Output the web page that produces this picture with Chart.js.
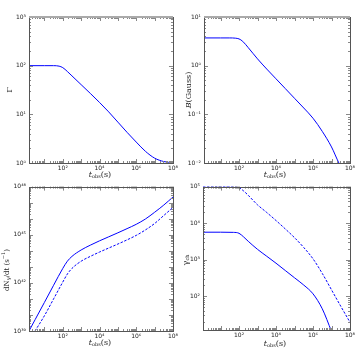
<!DOCTYPE html>
<html>
  <head>
    <script src="https://cdn.jsdelivr.net/npm/chart.js"></script>
    <style>
      body { margin: 0; background: #fff; }
      #wrap { position: relative; width: 360px; height: 360px; }
      .panel { position: absolute; width: 180px; height: 180px; }
    </style>
  </head>
  <body>
    <div id="wrap">
      <div class="panel" style="left:0;top:0"><canvas id="c1" width="180" height="180"></canvas></div>
      <div class="panel" style="left:180px;top:0"><canvas id="c2" width="180" height="180"></canvas></div>
      <div class="panel" style="left:0;top:180px"><canvas id="c3" width="180" height="180"></canvas></div>
      <div class="panel" style="left:180px;top:180px"><canvas id="c4" width="180" height="180"></canvas></div>
    </div>

    <script>
      // all values are log10 exponents
      const logTGamma = [0.16, 1, 1.5, 1.8, 2, 2.25, 2.5, 3, 3.5, 4, 4.5, 5, 5.5, 6, 6.5, 7, 7.5, 8]
      const logGamma = [2, 2, 2, 1.99, 1.96, 1.88, 1.79, 1.61, 1.43, 1.245, 1.05, 0.84, 0.63, 0.43, 0.24, 0.1, 0.03, 0.005]

      const logTB = [0.1, 1, 1.5, 1.8, 2, 2.2, 2.5, 3, 3.5, 4, 4.5, 5, 5.5, 6, 6.5, 7, 7.4, 7.7]
      const logB = [0.57, 0.57, 0.57, 0.565, 0.55, 0.5, 0.37, 0.14, -0.07, -0.27, -0.47, -0.67, -0.87, -1.08, -1.35, -1.67, -2.0, -2.2]

      const logTN = [0.16, 0.5, 1, 1.5, 2, 2.25, 2.5, 3, 3.5, 4, 4.5, 5, 5.5, 6, 6.5, 7, 7.5, 8]
      const logNSolid = [39, 39.72, 40.78, 41.85, 42.9, 43.35, 43.65, 44.05, 44.35, 44.62, 44.87, 45.12, 45.38, 45.65, 45.98, 46.4, 46.85, 47.35]
      const logTNDash = [0.49, 1, 1.5, 2, 2.25, 2.5, 3, 3.5, 4, 4.5, 5, 5.5, 6, 6.5, 7, 7.5, 8]
      const logNDash = [39, 39.95, 41, 42.05, 42.55, 42.9, 43.35, 43.65, 43.92, 44.17, 44.42, 44.68, 44.96, 45.3, 45.7, 46.2, 46.7]

      const logTGam = [0.05, 1, 1.7, 2, 2.25, 2.5, 3, 3.5, 4, 4.5, 5, 5.5, 6, 6.5, 7, 7.5, 8]
      const logGamDash = [5, 5, 4.995, 4.97, 4.88, 4.76, 4.5, 4.29, 4.07, 3.84, 3.6, 3.33, 3.02, 2.62, 2.17, 1.72, 1.28]
      const logGamSolid = [3.75, 3.75, 3.745, 3.72, 3.62, 3.5, 3.28, 3.09, 2.9, 2.7, 2.5, 2.3, 2.06, 1.65, 1.03, 0.4, -0.2]

      const xTicks = [1e2, 1e4, 1e6, 1e8]
      const yTicks1 = [1, 10, 100, 1000]
      const yTicks2 = [0.01, 0.1, 1, 10]
      const yTicks3 = [1e39, 1e42, 1e45, 1e48]
      const yTicks4 = [1e2, 1e3, 1e4, 1e5]

      const sup = { '-': '⁻', '0': '⁰', '1': '¹', '2': '²', '3': '³', '4': '⁴', '5': '⁵', '6': '⁶', '7': '⁷', '8': '⁸', '9': '⁹' }
      const powLabel = v => '10' + String(Math.round(Math.log10(v))).split('').map(c => sup[c]).join('')
      const pts = (xs, ys) => xs.map((x, i) => ({ x: 10 ** x, y: 10 ** ys[i] }))

      // draw text made of pieces with different sizes / baseline shifts, centred
      const drawParts = (ctx, parts, cx, cy, rotate) => {
        ctx.save()
        ctx.translate(cx, cy)
        if (rotate) ctx.rotate(-Math.PI / 2)
        ctx.fillStyle = '#222'
        ctx.textBaseline = 'middle'
        let w = 0
        parts.forEach(p => {
          ctx.font = (p.it ? 'italic ' : '') + p.size + 'px "DejaVu Serif"'
          p.w = ctx.measureText(p.t).width
          w += p.w
        })
        let x = -w / 2
        parts.forEach(p => {
          ctx.font = (p.it ? 'italic ' : '') + p.size + 'px "DejaVu Serif"'
          ctx.fillText(p.t, x, p.dy || 0)
          x += p.w
        })
        ctx.restore()
      }

      const xTitle = [{ t: 't', size: 8, it: true }, { t: 'obs', size: 5, dy: 2 }, { t: '(s)', size: 8 }]

      const framePlugin = {
        id: 'frame',
        afterDraw(chart, args, opts) {
          const { ctx, chartArea: a } = chart
          const xs = chart.scales.x
          const ys = chart.scales.y
          ctx.save()
          ctx.strokeStyle = '#888'
          ctx.lineWidth = 1
          // minor / major ticks on all four sides, pointing inward
          const marks = (scale, horiz) => {
            const lo = Math.floor(Math.log10(scale.min))
            const hi = Math.ceil(Math.log10(scale.max))
            for (let d = lo; d <= hi; d++) {
              for (let m = 1; m < 10; m++) {
                const v = m * 10 ** d
                if (v < scale.min * 0.999 || v > scale.max * 1.001) continue
                const p = Math.round(scale.getPixelForValue(v)) + 0.5
                const len = m === 1 ? 4 : 2
                ctx.beginPath()
                if (horiz) {
                  ctx.moveTo(p, a.bottom); ctx.lineTo(p, a.bottom - len)
                  ctx.moveTo(p, a.top); ctx.lineTo(p, a.top + len)
                } else {
                  ctx.moveTo(a.left, p); ctx.lineTo(a.left + len, p)
                  ctx.moveTo(a.right, p); ctx.lineTo(a.right - len, p)
                }
                ctx.stroke()
              }
            }
          }
          marks(xs, true)
          marks(ys, false)
          ctx.strokeStyle = '#555'
          ctx.strokeRect(Math.round(a.left) + 0.5, Math.round(a.top) + 0.5, Math.round(a.right - a.left), Math.round(a.bottom - a.top))
          if (opts.lightTop) {
            ctx.strokeStyle = '#aaa'
            ctx.lineWidth = 2
            ctx.beginPath()
            ctx.moveTo(a.left, Math.round(a.top))
            ctx.lineTo(a.right, Math.round(a.top))
            ctx.stroke()
          }
          ctx.restore()
          drawParts(ctx, xTitle, opts.xt[0], opts.xt[1], false)
          drawParts(ctx, opts.yTitle, opts.yt[0], opts.yt[1], true)
        }
      }

      const makePanel = (id, p) => {
        new Chart(document.getElementById(id), {
          type: 'line',
          data: { datasets: p.datasets },
          plugins: [framePlugin],
          options: {
            responsive: false,
            animation: false,
            devicePixelRatio: 1,
            layout: { padding: { top: p.top, right: p.right, left: 0, bottom: 0 } },
            elements: { point: { radius: 0 }, line: { borderWidth: 1, cubicInterpolationMode: 'monotone' } },
            scales: {
              x: {
                type: 'logarithmic',
                min: p.xmin,
                max: 1e8,
                border: { display: false },
                grid: { display: false, drawTicks: false },
                afterBuildTicks: s => { s.ticks = xTicks.map(v => ({ value: v })) },
                afterFit: s => { s.height = p.bottomH },
                ticks: {
                  autoSkip: false, maxRotation: 0, padding: 2, color: '#222',
                  font: { family: 'DejaVu Sans', size: 6 },
                  callback: v => powLabel(v)
                }
              },
              y: {
                type: 'logarithmic',
                min: p.ymin,
                max: p.ymax,
                border: { display: false },
                grid: { display: false, drawTicks: false },
                afterBuildTicks: s => { s.ticks = p.yTicks.map(v => ({ value: v })) },
                afterFit: s => { s.width = p.leftW },
                ticks: {
                  autoSkip: false, padding: 3, color: '#222',
                  font: { family: 'DejaVu Sans', size: 6 },
                  callback: v => powLabel(v)
                }
              }
            },
            plugins: {
              legend: { display: false },
              tooltip: { enabled: false },
              frame: { lightTop: p.lightTop, xt: p.xt, yt: p.yt, yTitle: p.yTitle }
            }
          }
        })
      }

      const blue = '#0000ff'
      const dash = [2.5, 1.5]

      makePanel('c1', {
        datasets: [{ data: pts(logTGamma, logGamma), borderColor: blue }],
        xmin: 1.45, ymin: 1, ymax: 1000, yTicks: yTicks1,
        top: 17, right: 6, leftW: 29, bottomH: 17, lightTop: true,
        xt: [100, 175], yt: [10, 90],
        yTitle: [{ t: 'Γ', size: 8 }]
      })

      makePanel('c2', {
        datasets: [{ data: pts(logTB, logB), borderColor: blue }],
        xmin: 1.28, ymin: 0.01, ymax: 10, yTicks: yTicks2,
        top: 17, right: 10, leftW: 24, bottomH: 17, lightTop: true,
        xt: [95, 175], yt: [9, 90],
        yTitle: [{ t: 'B', size: 8, it: true }, { t: '(Gauss)', size: 8 }]
      })

      makePanel('c3', {
        datasets: [
          { data: pts(logTN, logNSolid), borderColor: blue },
          { data: pts(logTNDash, logNDash), borderColor: blue, borderDash: dash }
        ],
        xmin: 1.45, ymin: 1e39, ymax: 1e48, yTicks: yTicks3,
        top: 6, right: 6, leftW: 29, bottomH: 29, lightTop: false,
        xt: [100, 163], yt: [7, 90],
        yTitle: [{ t: 'dN', size: 7 }, { t: 'γ', size: 5, dy: 2 }, { t: '/dt (s', size: 7 }, { t: '−1', size: 5, dy: -3 }, { t: ')', size: 7 }]
      })

      makePanel('c4', {
        datasets: [
          { data: pts(logTGam, logGamSolid), borderColor: blue },
          { data: pts(logTGam, logGamDash), borderColor: blue, borderDash: dash }
        ],
        xmin: 1.13, ymin: 11.7, ymax: 1e5, yTicks: yTicks4,
        top: 6, right: 10, leftW: 23, bottomH: 30, lightTop: false,
        xt: [95, 164], yt: [6, 80],
        yTitle: [{ t: 'γ', size: 8 }, { t: 'ch', size: 5, dy: 2 }]
      })
    </script>
  </body>
</html>
